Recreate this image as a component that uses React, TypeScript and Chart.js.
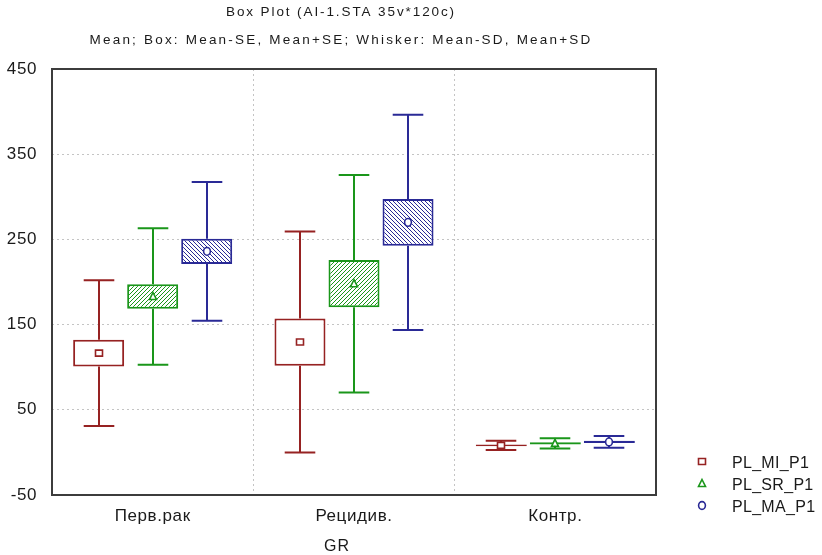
import React, { useEffect, useRef } from 'react';
import { Chart, registerables } from 'chart.js';
Chart.register(...registerables);

const categories = ['Перв.рак', 'Рецидив.', 'Контр.'];
const seriesNames = ['PL_MI_P1', 'PL_SR_P1', 'PL_MA_P1'];
const miMean = [116.5, 129.5, 8.2];
const miSE = [15.6, 27.8, 1.0];
const miSD = [85.6, 129.7, 5.5];
const srMean = [183, 198, 10.6];
const srSE = [14.3, 27.7, 1.2];
const srSD = [80, 127.7, 5.9];
const maMean = [236, 270, 12.3];
const maSE = [14.9, 27.5, 1.3];
const maSD = [81.5, 126.2, 6.9];
const yMin = -50;
const yMax = 450;
const yStep = 100;
const titleText = 'Box Plot (AI-1.STA 35v*120c)';
const subtitleText = 'Mean; Box: Mean-SE, Mean+SE; Whisker: Mean-SD, Mean+SD';
const xAxisTitle = 'GR';

const colors = ['#962222', '#1a961a', '#2a2a96'];
const FONT = '"Liberation Sans", Arial, sans-serif';

function makeHatch(color: string, dir: 'up' | 'down'): CanvasPattern | string {
  const c = document.createElement('canvas');
  c.width = 4;
  c.height = 4;
  const g = c.getContext('2d');
  if (!g) return color;
  g.fillStyle = '#ffffff';
  g.fillRect(0, 0, 4, 4);
  g.fillStyle = color;
  for (let i = 0; i < 4; i++) {
    const y = dir === 'up' ? 3 - i : i;
    g.fillRect(i, y, 1, 1);
  }
  const p = g.createPattern(c, 'repeat');
  return p || color;
}

function drawMarker(ctx: CanvasRenderingContext2D, kind: number, x: number, y: number, color: string) {
  ctx.save();
  ctx.strokeStyle = color;
  ctx.fillStyle = '#ffffff';
  ctx.lineWidth = 1.6;
  ctx.beginPath();
  if (kind === 0) {
    ctx.rect(x - 3.5, y - 3, 7, 6);
  } else if (kind === 1) {
    ctx.moveTo(x, y - 4);
    ctx.lineTo(x + 3.5, y + 3);
    ctx.lineTo(x - 3.5, y + 3);
    ctx.closePath();
  } else {
    ctx.ellipse(x, y, 3.4, 3.9, 0, 0, Math.PI * 2);
  }
  ctx.fill();
  ctx.stroke();
  ctx.restore();
}

export default function App() {
  const ref = useRef<HTMLCanvasElement | null>(null);

  useEffect(() => {
    const canvas = ref.current;
    if (!canvas) return;
    const stats = [
      { mean: miMean, se: miSE, sd: miSD },
      { mean: srMean, se: srSE, sd: srSD },
      { mean: maMean, se: maSE, sd: maSD },
    ];
    const fills = ['#ffffff', makeHatch(colors[1], 'up'), makeHatch(colors[2], 'down')];

    const whiskerPlugin = {
      id: 'whiskers',
      beforeDraw(chart: any) {
        (chart.ctx as any).letterSpacing = '0.6px';
      },
      afterDatasetsDraw(chart: any) {
        const ctx = chart.ctx as CanvasRenderingContext2D;
        const ys = chart.scales.y;
        stats.forEach((s, i) => {
          const meta = chart.getDatasetMeta(i);
          meta.data.forEach((bar: any, j: number) => {
            const x = Math.round(bar.x);
            const capW = bar.width * 0.6;
            const m = s.mean[j];
            const yTop = ys.getPixelForValue(m + s.sd[j]);
            const yBot = ys.getPixelForValue(m - s.sd[j]);
            const yBT = ys.getPixelForValue(m + s.se[j]);
            const yBB = ys.getPixelForValue(m - s.se[j]);
            ctx.save();
            ctx.strokeStyle = colors[i];
            ctx.lineWidth = 2;
            ctx.beginPath();
            ctx.moveTo(x, yTop);
            ctx.lineTo(x, yBT);
            ctx.moveTo(x, yBB);
            ctx.lineTo(x, yBot);
            ctx.moveTo(x - capW / 2, yTop);
            ctx.lineTo(x + capW / 2, yTop);
            ctx.moveTo(x - capW / 2, yBot);
            ctx.lineTo(x + capW / 2, yBot);
            ctx.stroke();
            ctx.restore();
            drawMarker(ctx, i, x, ys.getPixelForValue(m), colors[i]);
          });
        });
      },
      afterDraw(chart: any) {
        const ctx = chart.ctx as CanvasRenderingContext2D;
        const a = chart.chartArea;
        ctx.save();
        ctx.strokeStyle = '#3c3c3c';
        ctx.lineWidth = 2;
        ctx.strokeRect(a.left, a.top, a.right - a.left, a.bottom - a.top);
        ctx.fillStyle = '#1a1a1a';
        ctx.textAlign = 'center';
        ctx.textBaseline = 'alphabetic';
        ctx.font = '13.5px ' + FONT;
        (ctx as any).letterSpacing = '1.9px';
        ctx.fillText(titleText, 341, 16);
        (ctx as any).letterSpacing = '2.2px';
        ctx.fillText(subtitleText, 341, 44);
        (ctx as any).letterSpacing = '1px';
        ctx.font = '16px ' + FONT;
        ctx.fillText(xAxisTitle, 337, 551);
        ctx.textAlign = 'left';
        (ctx as any).letterSpacing = '0.3px';
        seriesNames.forEach((name, i) => {
          const y = 461.5 + i * 22;
          drawMarker(ctx, i, 702, y, colors[i]);
          ctx.fillStyle = '#1a1a1a';
          ctx.fillText(name, 732, y + 6);
        });
        (ctx as any).letterSpacing = '0px';
        ctx.restore();
      },
    };

    const chart = new Chart(canvas, {
      type: 'bar',
      data: {
        labels: categories,
        datasets: stats.map((s, i) => ({
          label: seriesNames[i],
          data: s.mean.map((m, j) => [m - s.se[j], m + s.se[j]]),
          backgroundColor: fills[i],
          borderColor: colors[i],
          borderWidth: 2,
          borderSkipped: false,
          categoryPercentage: 0.805,
          barPercentage: 0.944,
        })) as any,
      },
      options: {
        responsive: false,
        animation: false,
        devicePixelRatio: 1,
        layout: { padding: { top: 69, right: 166, bottom: 0, left: 0 } },
        plugins: { legend: { display: false }, tooltip: { enabled: false }, title: { display: false } },
        scales: {
          x: {
            type: 'category',
            offset: true,
            grid: { display: true, offset: true, color: '#c4c4c4', lineWidth: 1, drawTicks: false },
            border: { display: false, dash: [2, 3] },
            ticks: { color: '#1a1a1a', font: { family: FONT, size: 17 }, padding: 11 },
            afterFit: (scale: any) => { scale.height = 60; },
          },
          y: {
            min: yMin,
            max: yMax,
            grid: { color: '#c4c4c4', lineWidth: 1, drawTicks: false },
            border: { display: false, dash: [2, 3] },
            ticks: { stepSize: yStep, color: '#1a1a1a', font: { family: FONT, size: 17 }, padding: 15 },
            afterFit: (scale: any) => { scale.width = 52; },
          },
        },
      },
      plugins: [whiskerPlugin],
    });
    return () => chart.destroy();
  }, []);

  return (
    <div style={{ position: 'fixed', left: 0, top: 0, width: 822, height: 555, background: '#ffffff' }}>
      <canvas ref={ref} width={822} height={555} />
    </div>
  );
}
